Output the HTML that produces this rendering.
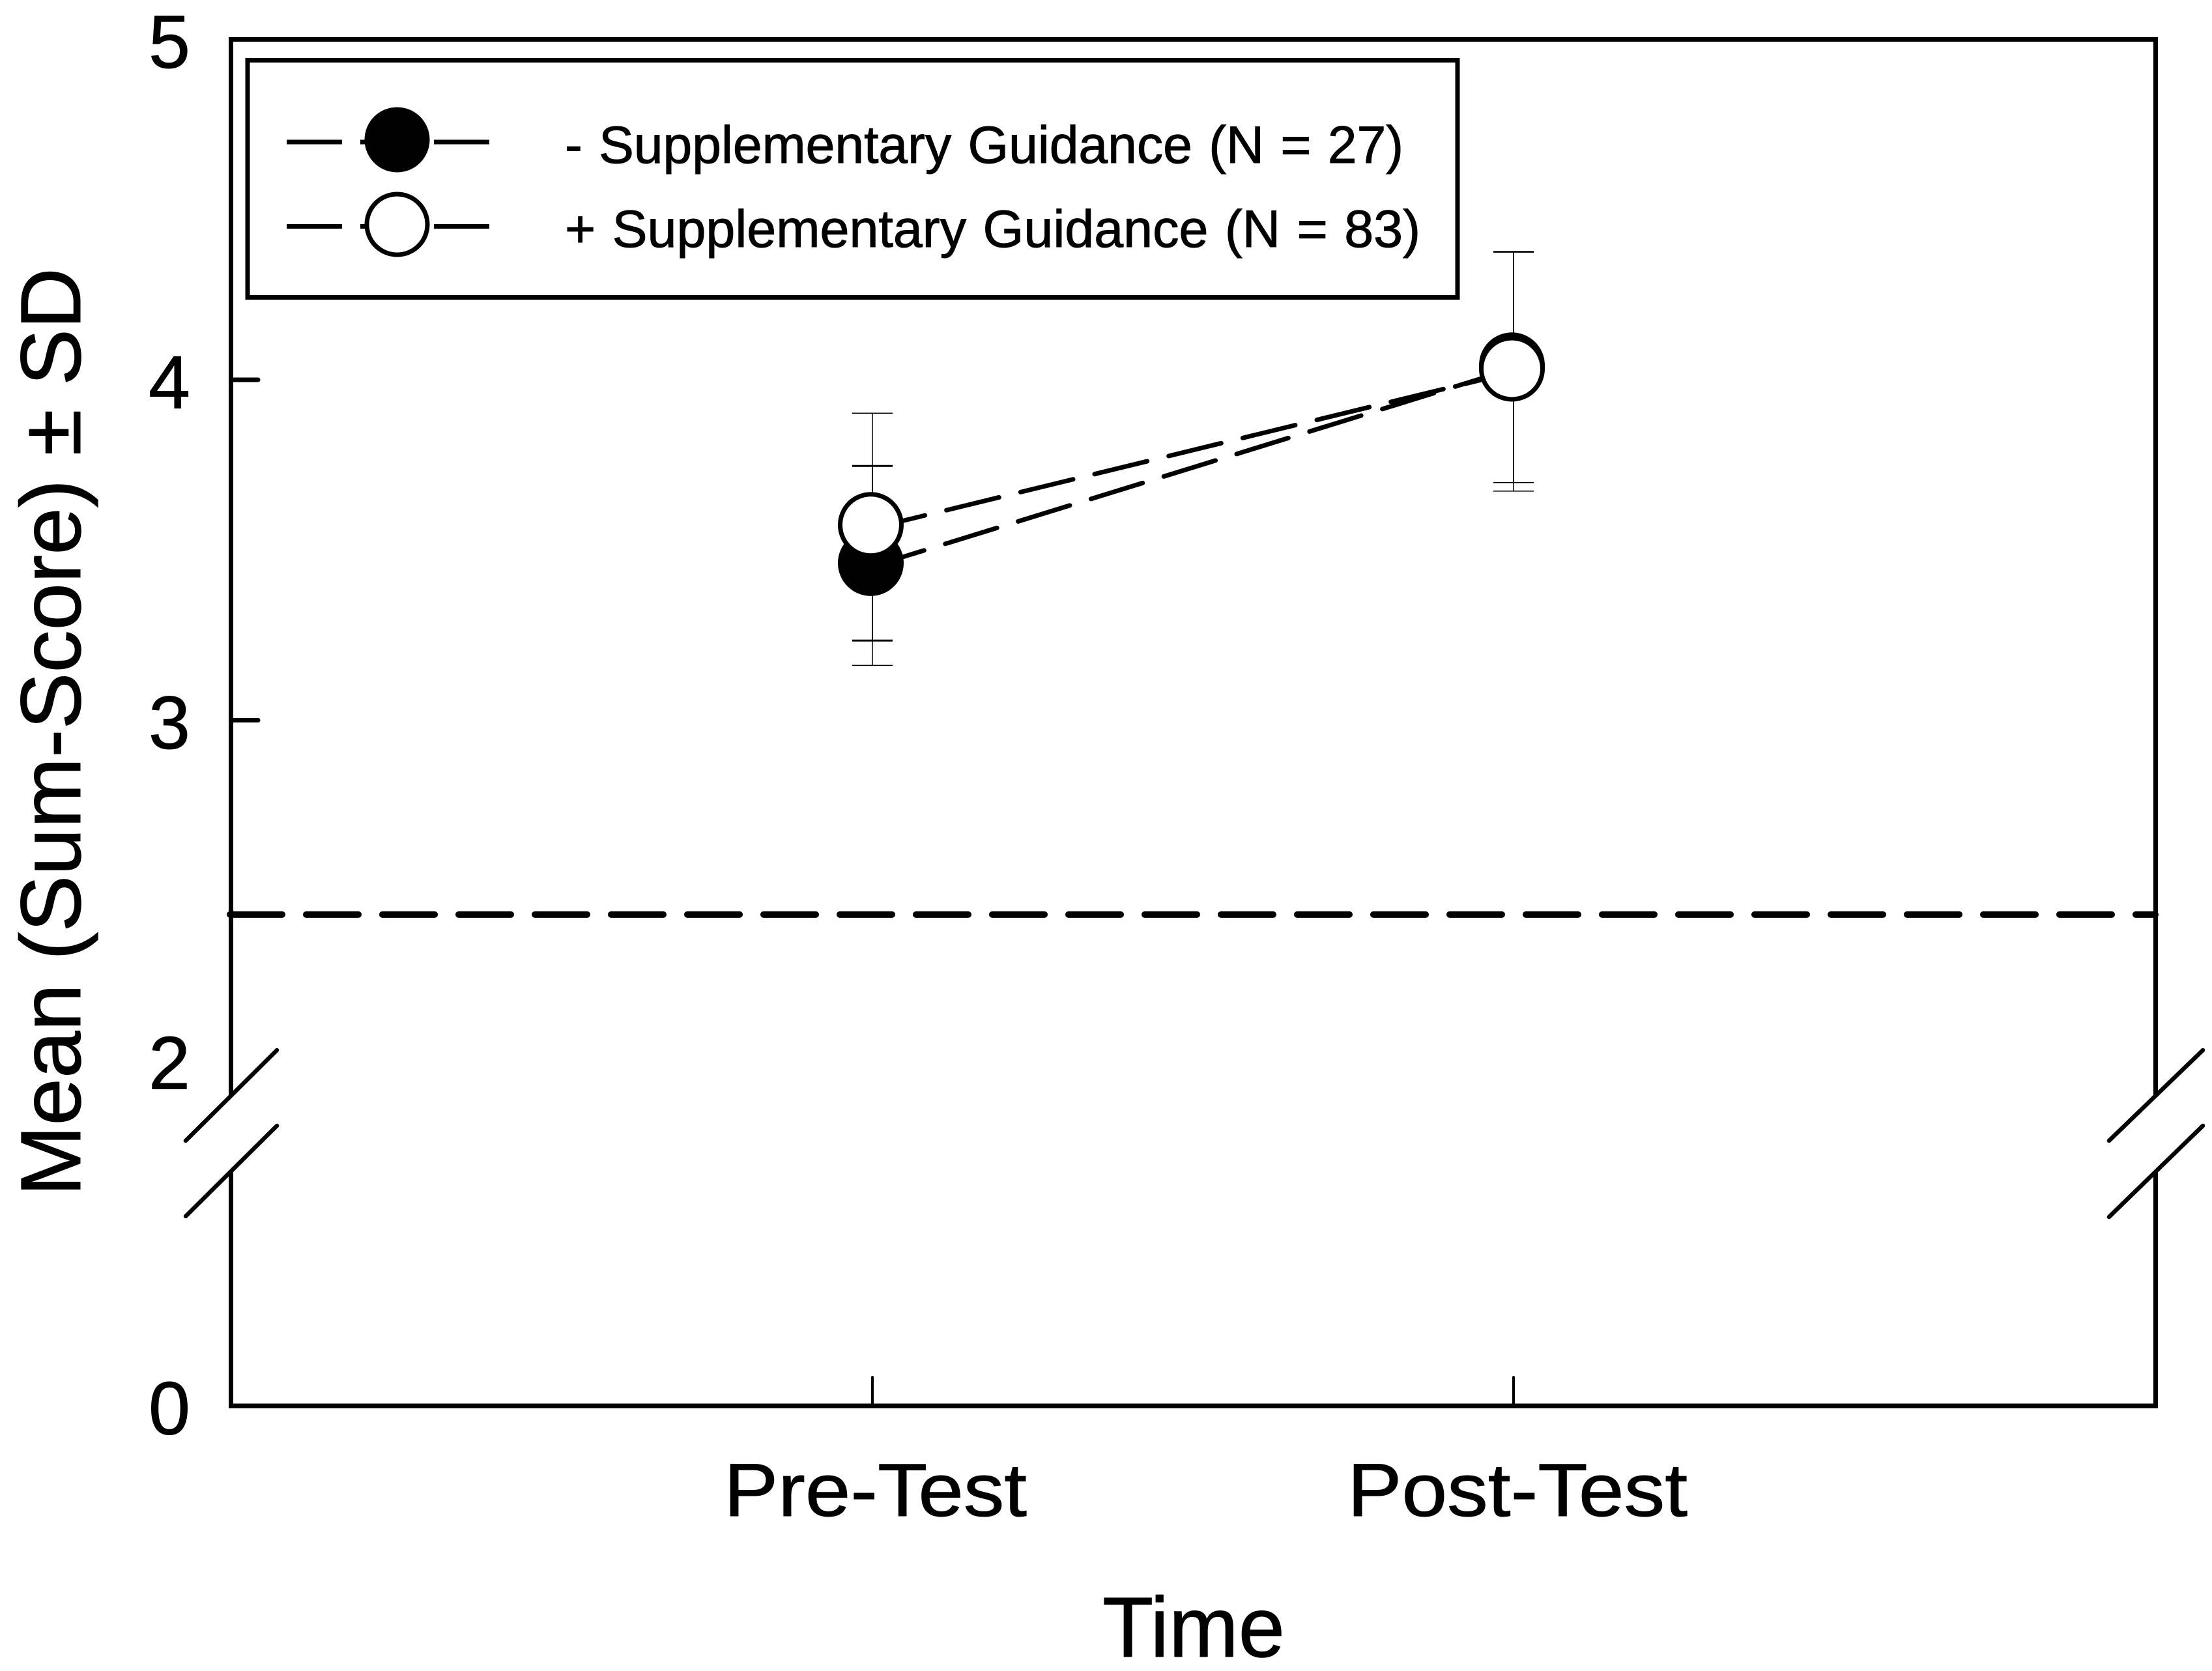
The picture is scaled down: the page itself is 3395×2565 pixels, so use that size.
<!DOCTYPE html>
<html lang="en">
<head>
<meta charset="utf-8">
<title>Mean Sum-Score by Time</title>
<style>
html,body{margin:0;padding:0;background:#fff;}
svg{display:block;}
text{font-family:"Liberation Sans",Arial,sans-serif;fill:#000;stroke:#000;stroke-width:1;white-space:pre;}
</style>
</head>
<body>
<svg id="chart" xmlns="http://www.w3.org/2000/svg" width="3395" height="2565" viewBox="0 0 3395 2565">
  <rect x="0" y="0" width="3395" height="2565" fill="#fff"/>
  <g stroke="#000" stroke-width="7" fill="none" stroke-linecap="square">
    <line x1="354.5" y1="60.5" x2="3308.5" y2="60.5"/>
    <line x1="354.5" y1="2158" x2="3308.5" y2="2158"/>
    <line x1="354.5" y1="60.5" x2="354.5" y2="1680"/>
    <line x1="354.5" y1="1801" x2="354.5" y2="2158"/>
    <line x1="3308.5" y1="60.5" x2="3308.5" y2="1680"/>
    <line x1="3308.5" y1="1801" x2="3308.5" y2="2158"/>
  </g>
  <g stroke="#000" stroke-width="6.5" stroke-linecap="round">
    <line x1="285" y1="1751" x2="425" y2="1612"/>
    <line x1="285" y1="1867" x2="425" y2="1728"/>
    <line x1="3237" y1="1751" x2="3381" y2="1612"/>
    <line x1="3237" y1="1868" x2="3381" y2="1728"/>
  </g>
  <g id="axes"></g>
  <g id="marks"></g>
  <text transform="translate(123,1836) rotate(-90)" font-size="131" textLength="1425" lengthAdjust="spacingAndGlyphs">Mean (Sum-Score) ± SD</text>
  <text x="1692" y="2543" font-size="131" textLength="280" lengthAdjust="spacingAndGlyphs">Time</text>
  <g>
    <rect x="380" y="92.5" width="1857" height="364" fill="#fff" stroke="#000" stroke-width="7"/>
    <line x1="440" y1="218" x2="752" y2="218" stroke="#000" stroke-width="7" stroke-dasharray="85 28"/>
    <circle cx="609.5" cy="214.5" r="50" fill="#000"/>
    <text x="867" y="250" font-size="81" word-spacing="3" textLength="1287" lengthAdjust="spacingAndGlyphs">- Supplementary Guidance (N = 27)</text>
    <line x1="440" y1="347.5" x2="752" y2="347.5" stroke="#000" stroke-width="7" stroke-dasharray="85 28"/>
    <circle cx="609.5" cy="344.5" r="46.5" fill="#fff" stroke="#000" stroke-width="7"/>
    <text x="867" y="379" font-size="81" word-spacing="3" textLength="1313" lengthAdjust="spacingAndGlyphs">+ Supplementary Guidance (N = 83)</text>
  </g>
</svg>
<script>
const categories = ["Pre-Test", "Post-Test"];
const yTickLabels = [5, 4, 3, 2, 0];
const yTickMarks = [4, 3];
const referenceValue = [2.429];
const withoutGuidanceMean = [3.452, 4.033];
const withoutGuidanceUpper = [3.747, 4.377];
const withoutGuidanceLower = [3.161, 3.698];
const withGuidanceMean = [3.564, 4.023];
const withGuidanceUpper = [3.902, 4.375];
const withGuidanceLower = [3.234, 3.673];

const NS = "http://www.w3.org/2000/svg";
const axes = document.getElementById("axes");
const marks = document.getElementById("marks");

function xPos(i) { return 1339 + 984 * i; }
function yPos(v) {
  if (v >= 2) return 60.5 + (5 - v) * 522.5;
  return 1628 + (2 - v) * 265;
}
function make(parent, tag, geom) {
  const el = document.createElementNS(NS, tag);
  for (const k in geom) el.setAttribute(k, geom[k]);
  parent.appendChild(el);
  return el;
}

yTickLabels.forEach(function (v) {
  const el = make(axes, "text", { x: 292, y: yPos(v) + 43.5, "font-size": 115, "text-anchor": "end" });
  el.textContent = String(v);
  
  
});
yTickMarks.forEach(function (v) {
  const el = make(axes, "line", { x1: 354.5, x2: 396, y1: yPos(v), y2: yPos(v), stroke: "#000", "stroke-width": 7, "stroke-linecap": "round" });
  
  
});
const xLabelLeft = [1111, 2068];
const xLabelLength = [465, 522];
categories.forEach(function (c, i) {
  const t = make(axes, "line", { x1: xPos(i), x2: xPos(i), y1: 2114, y2: 2158, stroke: "#000", "stroke-width": 4, "stroke-linecap": "round" });
  
  
  const el = make(axes, "text", { x: xLabelLeft[i], y: 2327, "font-size": 115, textLength: xLabelLength[i], lengthAdjust: "spacingAndGlyphs" });
  el.textContent = c;
  
  
});

const ref = make(marks, "line", { x1: 353, x2: 3308, y1: yPos(referenceValue[0]), y2: yPos(referenceValue[0]), stroke: "#000", "stroke-width": 10, "stroke-dasharray": "80 37", "stroke-linecap": "round" });



function errorBars(upper, lower, upperFirstWidth, lowerFirstWidth) {
  categories.forEach(function (c, i) {
    const x = xPos(i);
    const stem = make(marks, "line", { x1: x, x2: x, y1: yPos(upper[i]), y2: yPos(lower[i]), stroke: "#000", "stroke-width": 1.5 });
    
    
    const top = make(marks, "line", { x1: x - 31, x2: x + 31, y1: yPos(upper[i]), y2: yPos(upper[i]), stroke: "#000", "stroke-width": i === 0 ? upperFirstWidth : 1.5 });
    
    
    const bot = make(marks, "line", { x1: x - 31, x2: x + 31, y1: yPos(lower[i]), y2: yPos(lower[i]), stroke: "#000", "stroke-width": i === 0 ? lowerFirstWidth : 1.5 });
    
    
  });
}
function seriesLine(values) {
  const pts = values.map(function (v, i) { return xPos(i) + "," + yPos(v); }).join(" ");
  const el = make(marks, "polyline", { points: pts, fill: "none", stroke: "#000", "stroke-width": 7, "stroke-dasharray": "83 34", "stroke-linecap": "round" });
  
  
}
function seriesMarkers(values, filled) {
  values.forEach(function (v, i) {
    const cx = xPos(i) - 2.5;
    const cy = yPos(v) - 5;
    const el = filled
      ? make(marks, "circle", { cx: cx, cy: cy, r: 50.5, fill: "#000" })
      : make(marks, "circle", { cx: cx, cy: cy, r: 47, fill: "#fff", stroke: "#000", "stroke-width": 7 });
    
    
  });
}

errorBars(withoutGuidanceUpper, withoutGuidanceLower, 3, 1.5);
errorBars(withGuidanceUpper, withGuidanceLower, 1.5, 3);
seriesLine(withoutGuidanceMean);
seriesMarkers(withoutGuidanceMean, true);
seriesLine(withGuidanceMean);
seriesMarkers(withGuidanceMean, false);
</script>
</body>
</html>
